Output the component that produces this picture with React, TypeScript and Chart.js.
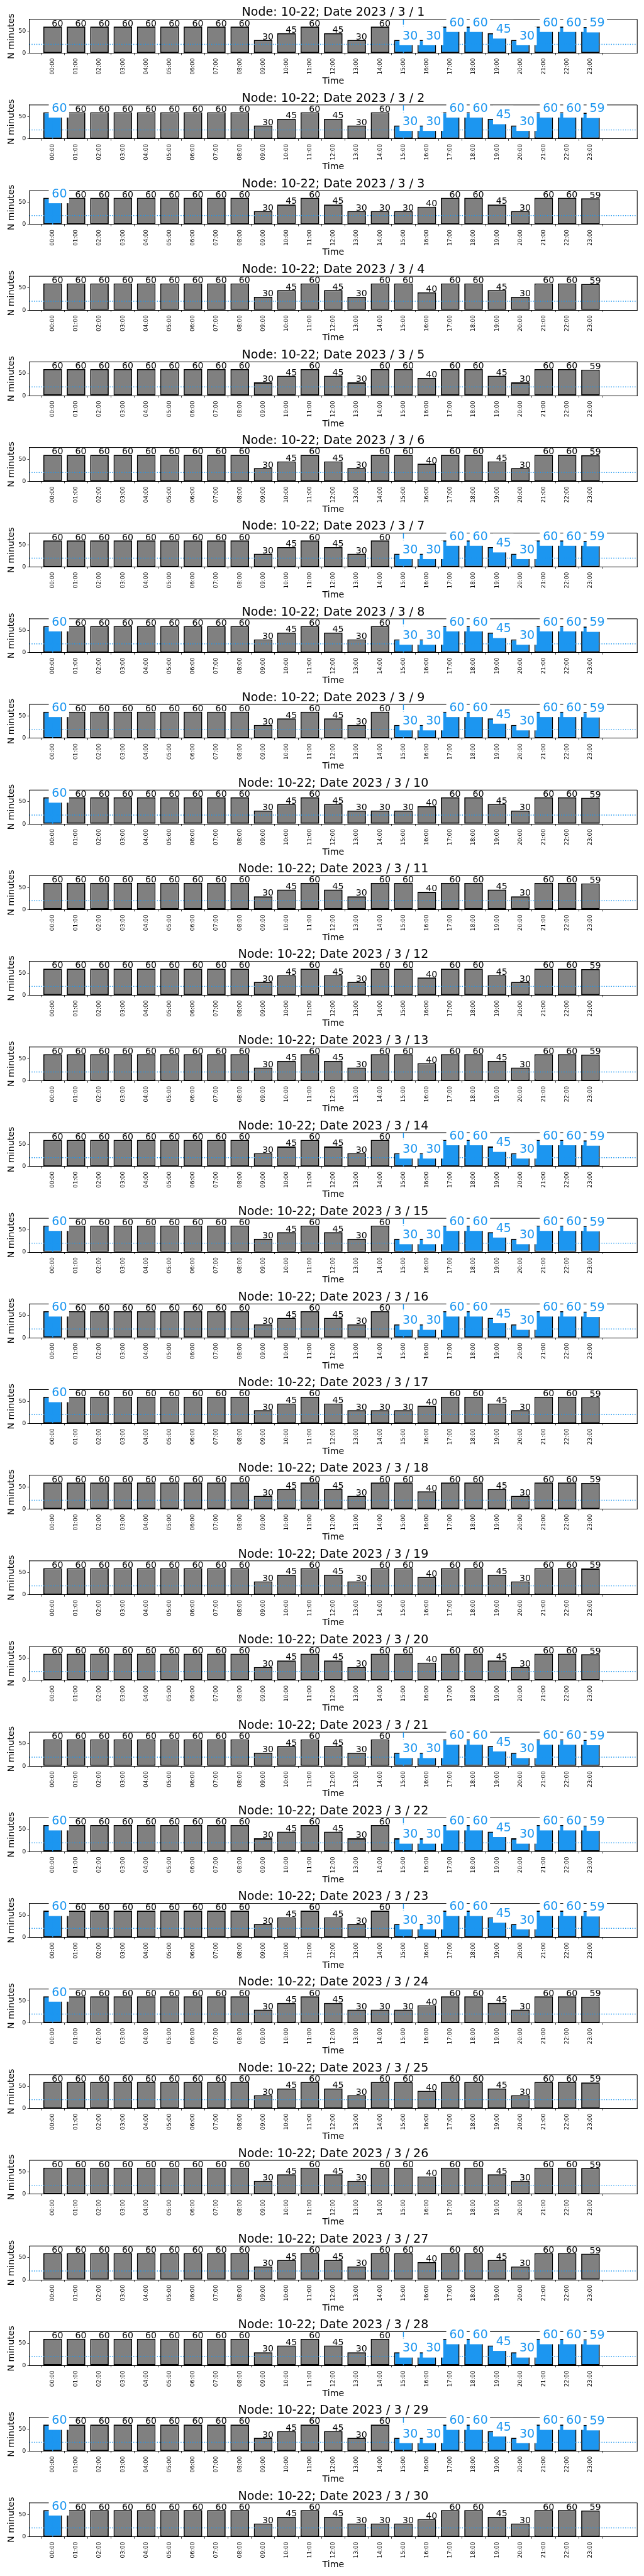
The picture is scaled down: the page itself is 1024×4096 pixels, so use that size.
import React, { useEffect, useRef } from 'react';
import { Chart, registerables } from 'chart.js';

Chart.register(...registerables);

// ---------------- data ----------------
const nodeName = '10-22';
const year = 2023;
const month = 3;

const hourLabels = [
  '00:00', '01:00', '02:00', '03:00', '04:00', '05:00', '06:00', '07:00',
  '08:00', '09:00', '10:00', '11:00', '12:00', '13:00', '14:00', '15:00',
  '16:00', '17:00', '18:00', '19:00', '20:00', '21:00', '22:00', '23:00',
];

const yTickValues = [0, 50];
const yLimit = 76.4;
const thresholdMinutes = 20;

const day01 = [60, 60, 60, 60, 60, 60, 60, 60, 60, 30, 45, 60, 45, 30, 60, 30, 30, 60, 60, 45, 30, 60, 60, 59];
const day02 = [60, 60, 60, 60, 60, 60, 60, 60, 60, 30, 45, 60, 45, 30, 60, 30, 30, 60, 60, 45, 30, 60, 60, 59];
const day03 = [60, 60, 60, 60, 60, 60, 60, 60, 60, 30, 45, 60, 45, 30, 30, 30, 40, 60, 60, 45, 30, 60, 60, 59];
const day04 = [60, 60, 60, 60, 60, 60, 60, 60, 60, 30, 45, 60, 45, 30, 60, 60, 40, 60, 60, 45, 30, 60, 60, 59];
const day05 = [60, 60, 60, 60, 60, 60, 60, 60, 60, 30, 45, 60, 45, 30, 60, 60, 40, 60, 60, 45, 30, 60, 60, 59];
const day06 = [60, 60, 60, 60, 60, 60, 60, 60, 60, 30, 45, 60, 45, 30, 60, 60, 40, 60, 60, 45, 30, 60, 60, 59];
const day07 = [60, 60, 60, 60, 60, 60, 60, 60, 60, 30, 45, 60, 45, 30, 60, 30, 30, 60, 60, 45, 30, 60, 60, 59];
const day08 = [60, 60, 60, 60, 60, 60, 60, 60, 60, 30, 45, 60, 45, 30, 60, 30, 30, 60, 60, 45, 30, 60, 60, 59];
const day09 = [60, 60, 60, 60, 60, 60, 60, 60, 60, 30, 45, 60, 45, 30, 60, 30, 30, 60, 60, 45, 30, 60, 60, 59];
const day10 = [60, 60, 60, 60, 60, 60, 60, 60, 60, 30, 45, 60, 45, 30, 30, 30, 40, 60, 60, 45, 30, 60, 60, 59];
const day11 = [60, 60, 60, 60, 60, 60, 60, 60, 60, 30, 45, 60, 45, 30, 60, 60, 40, 60, 60, 45, 30, 60, 60, 59];
const day12 = [60, 60, 60, 60, 60, 60, 60, 60, 60, 30, 45, 60, 45, 30, 60, 60, 40, 60, 60, 45, 30, 60, 60, 59];
const day13 = [60, 60, 60, 60, 60, 60, 60, 60, 60, 30, 45, 60, 45, 30, 60, 60, 40, 60, 60, 45, 30, 60, 60, 59];
const day14 = [60, 60, 60, 60, 60, 60, 60, 60, 60, 30, 45, 60, 45, 30, 60, 30, 30, 60, 60, 45, 30, 60, 60, 59];
const day15 = [60, 60, 60, 60, 60, 60, 60, 60, 60, 30, 45, 60, 45, 30, 60, 30, 30, 60, 60, 45, 30, 60, 60, 59];
const day16 = [60, 60, 60, 60, 60, 60, 60, 60, 60, 30, 45, 60, 45, 30, 60, 30, 30, 60, 60, 45, 30, 60, 60, 59];
const day17 = [60, 60, 60, 60, 60, 60, 60, 60, 60, 30, 45, 60, 45, 30, 30, 30, 40, 60, 60, 45, 30, 60, 60, 59];
const day18 = [60, 60, 60, 60, 60, 60, 60, 60, 60, 30, 45, 60, 45, 30, 60, 60, 40, 60, 60, 45, 30, 60, 60, 59];
const day19 = [60, 60, 60, 60, 60, 60, 60, 60, 60, 30, 45, 60, 45, 30, 60, 60, 40, 60, 60, 45, 30, 60, 60, 59];
const day20 = [60, 60, 60, 60, 60, 60, 60, 60, 60, 30, 45, 60, 45, 30, 60, 60, 40, 60, 60, 45, 30, 60, 60, 59];
const day21 = [60, 60, 60, 60, 60, 60, 60, 60, 60, 30, 45, 60, 45, 30, 60, 30, 30, 60, 60, 45, 30, 60, 60, 59];
const day22 = [60, 60, 60, 60, 60, 60, 60, 60, 60, 30, 45, 60, 45, 30, 60, 30, 30, 60, 60, 45, 30, 60, 60, 59];
const day23 = [60, 60, 60, 60, 60, 60, 60, 60, 60, 30, 45, 60, 45, 30, 60, 30, 30, 60, 60, 45, 30, 60, 60, 59];
const day24 = [60, 60, 60, 60, 60, 60, 60, 60, 60, 30, 45, 60, 45, 30, 30, 30, 40, 60, 60, 45, 30, 60, 60, 59];
const day25 = [60, 60, 60, 60, 60, 60, 60, 60, 60, 30, 45, 60, 45, 30, 60, 60, 40, 60, 60, 45, 30, 60, 60, 59];
const day26 = [60, 60, 60, 60, 60, 60, 60, 60, 60, 30, 45, 60, 45, 30, 60, 60, 40, 60, 60, 45, 30, 60, 60, 59];
const day27 = [60, 60, 60, 60, 60, 60, 60, 60, 60, 30, 45, 60, 45, 30, 60, 60, 40, 60, 60, 45, 30, 60, 60, 59];
const day28 = [60, 60, 60, 60, 60, 60, 60, 60, 60, 30, 45, 60, 45, 30, 60, 30, 30, 60, 60, 45, 30, 60, 60, 59];
const day29 = [60, 60, 60, 60, 60, 60, 60, 60, 60, 30, 45, 60, 45, 30, 60, 30, 30, 60, 60, 45, 30, 60, 60, 59];
const day30 = [60, 60, 60, 60, 60, 60, 60, 60, 60, 30, 45, 60, 45, 30, 30, 30, 40, 60, 60, 45, 30, 60, 60, 59];

const dailyValues = [
  day01, day02, day03, day04, day05, day06, day07, day08, day09, day10,
  day11, day12, day13, day14, day15, day16, day17, day18, day19, day20,
  day21, day22, day23, day24, day25, day26, day27, day28, day29, day30,
];

// highlighted (blue) hours per day
const eveningHours = [15, 16, 17, 18, 19, 20, 21, 22, 23];
const midnightHour = [0];
const bothPeriods = [0, 15, 16, 17, 18, 19, 20, 21, 22, 23];
const noHours: number[] = [];

const dailyHighlights = [
  eveningHours, bothPeriods, midnightHour, noHours, noHours, noHours, eveningHours,
  bothPeriods, bothPeriods, midnightHour, noHours, noHours, noHours, eveningHours,
  bothPeriods, bothPeriods, midnightHour, noHours, noHours, noHours, eveningHours,
  bothPeriods, bothPeriods, midnightHour, noHours, noHours, noHours, eveningHours,
  bothPeriods, midnightHour,
];

// ---------------- layout / style ----------------
const S = 0.682;
const CANVAS_W = 1024;
const CANVAS_H = 137;
const PANEL_STEP = 199.67 * S;
const AXES_TOP = 45 * S;
const AXES_H = 79 * S;
const AXES_LEFT = 68.3 * S;
const AXES_RIGHT = 1485.7 * S;
const FONT = '"DejaVu Sans", "Noto Sans", sans-serif';
const GRAY = '#808080';
const BLUE = '#1C96F0';
const EDGE = '#000000';

function segmentStarts(hl: number[]): number[] {
  const out: number[] = [];
  hl.forEach((h) => {
    if (!hl.includes(h - 1)) out.push(h);
  });
  return out;
}

function Panel({ index }: { index: number }) {
  const ref = useRef<HTMLCanvasElement | null>(null);
  const exact = index * PANEL_STEP;
  const top = Math.floor(exact);
  const frac = exact - top;

  useEffect(() => {
    const canvas = ref.current;
    if (!canvas) return;
    const values = dailyValues[index];
    const hl = dailyHighlights[index];
    const areaTop = AXES_TOP + frac;
    const areaBottom = areaTop + AXES_H;
    const title = `Node: ${nodeName}; Date ${year} / ${month} / ${index + 1}`;
    const starts = segmentStarts(hl);

    const overlay = {
      id: 'overlay' + index,
      afterDatasetsDraw(chart: any) {
        const ctx = chart.ctx as CanvasRenderingContext2D;
        const a = chart.chartArea;
        const xs = chart.scales.x;
        const ys = chart.scales.y;
        ctx.save();
        // top and right spines
        ctx.strokeStyle = '#000';
        ctx.lineWidth = 1;
        ctx.beginPath();
        ctx.moveTo(a.left, a.top);
        ctx.lineTo(a.right, a.top);
        ctx.lineTo(a.right, a.bottom);
        ctx.stroke();

        // threshold + period markers (clipped)
        ctx.save();
        ctx.beginPath();
        ctx.rect(a.left, a.top, a.right - a.left, a.bottom - a.top);
        ctx.clip();
        ctx.strokeStyle = BLUE;
        ctx.lineWidth = 1.42;
        ctx.setLineDash([1.42, 2.34]);
        const yT = ys.getPixelForValue(thresholdMinutes);
        ctx.beginPath();
        ctx.moveTo(a.left, yT);
        ctx.lineTo(a.right, yT);
        ctx.stroke();
        ctx.setLineDash([9.1, 2.25, 1.42, 2.25]);
        starts.forEach((h) => {
          const x = xs.getPixelForValue(h);
          ctx.beginPath();
          ctx.moveTo(x, a.bottom);
          ctx.lineTo(x, a.top);
          ctx.stroke();
        });
        ctx.restore();

        // value labels
        ctx.setLineDash([]);
        ctx.textAlign = 'left';
        ctx.textBaseline = 'alphabetic';
        values.forEach((v, i) => {
          const x0 = xs.getPixelForValue(i) - 1.4;
          const yb = ys.getPixelForValue(v) - 0.7;
          const txt = String(v);
          if (hl.includes(i)) {
            ctx.font = `19px ${FONT}`;
            const w = ctx.measureText(txt).width;
            ctx.fillStyle = '#ffffff';
            ctx.fillRect(x0 - 4.8, yb - 20.5, w + 8.2, 29.7);
            ctx.fillStyle = BLUE;
            ctx.fillText(txt, x0, yb);
          } else {
            ctx.font = `14.2px ${FONT}`;
            ctx.fillStyle = '#000';
            ctx.fillText(txt, x0, yb);
          }
        });

        // title and axis titles
        ctx.fillStyle = '#000';
        const cx = (a.left + a.right) / 2;
        ctx.textAlign = 'center';
        ctx.font = `19px ${FONT}`;
        ctx.fillText(title, cx, a.top - 5.25);
        ctx.font = `14.2px ${FONT}`;
        ctx.fillText('Time', cx, a.bottom + 48.4);
        ctx.save();
        ctx.translate(21.6, (a.top + a.bottom) / 2);
        ctx.rotate(-Math.PI / 2);
        ctx.fillText('N minutes', 0, 0);
        ctx.restore();
        ctx.restore();
      },
    };

    const chart = new Chart(canvas, {
      type: 'bar',
      data: {
        datasets: [
          {
            data: values.map((v, i) => ({ x: i, y: v })),
            backgroundColor: values.map((_, i) => (hl.includes(i) ? BLUE : GRAY)),
            borderColor: EDGE,
            borderWidth: 1.8,
            borderSkipped: false,
            barPercentage: 0.795,
            categoryPercentage: 1,
          } as any,
        ],
      },
      options: {
        animation: false,
        responsive: false,
        maintainAspectRatio: false,
        devicePixelRatio: 1,
        layout: {
          padding: { left: 0, right: CANVAS_W - AXES_RIGHT, top: areaTop, bottom: 0 },
        },
        plugins: {
          legend: { display: false },
          tooltip: { enabled: false },
          title: { display: false },
        },
        scales: {
          x: {
            type: 'linear',
            min: -1,
            max: 25,
            offset: false,
            afterBuildTicks: (axis: any) => {
              axis.ticks = hourLabels.map((_, i) => ({ value: i }));
            },
            afterFit: (axis: any) => {
              axis.height = CANVAS_H - areaBottom;
            },
            ticks: {
              autoSkip: false,
              minRotation: 90,
              maxRotation: 90,
              padding: 5,
              color: '#000',
              font: { family: FONT, size: 9 },
              callback: (v: any) => hourLabels[v as number] ?? '',
            },
            grid: {
              drawOnChartArea: false,
              drawTicks: true,
              tickLength: 3,
              color: '#000',
              lineWidth: 0.8,
            },
            border: { display: true, color: '#000', width: 1 },
          },
          y: {
            min: 0,
            max: yLimit,
            afterBuildTicks: (axis: any) => {
              axis.ticks = yTickValues.map((v) => ({ value: v }));
            },
            afterFit: (axis: any) => {
              axis.width = AXES_LEFT;
            },
            ticks: {
              padding: 2.3,
              color: '#000',
              font: { family: FONT, size: 9.5 },
            },
            grid: {
              drawOnChartArea: false,
              drawTicks: true,
              tickLength: 3,
              color: '#000',
              lineWidth: 0.8,
            },
            border: { display: true, color: '#000', width: 1 },
          },
        },
      } as any,
      plugins: [overlay],
    });
    return () => chart.destroy();
  }, [index, frac]);

  return (
    <canvas
      ref={ref}
      width={CANVAS_W}
      height={CANVAS_H}
      style={{ position: 'absolute', left: 0, top, width: CANVAS_W, height: CANVAS_H }}
    />
  );
}

export default function App() {
  return (
    <div
      style={{
        position: 'absolute',
        left: 0,
        top: 0,
        width: CANVAS_W,
        height: 4096,
        background: '#ffffff',
        overflow: 'hidden',
      }}
    >
      {dailyValues.map((_, i) => (
        <Panel key={i} index={i} />
      ))}
    </div>
  );
}
